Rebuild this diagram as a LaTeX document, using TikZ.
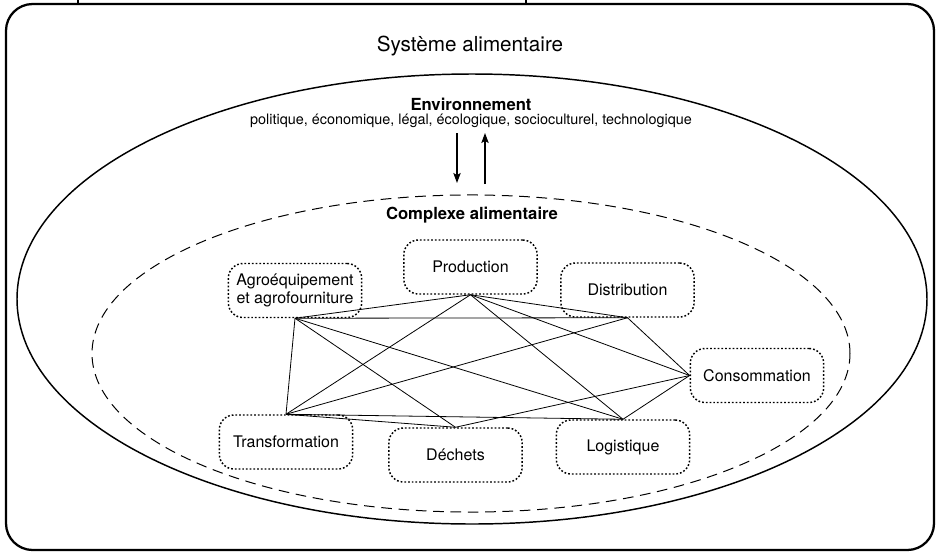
\documentclass[tikz,border=0pt]{standalone}
\usepackage{fontspec}
\setmainfont{TeX Gyre Heros}
\usepackage{tikz}
\usetikzlibrary{arrows.meta,positioning}

\begin{document}
\begin{tikzpicture}[x=0.75pt, y=-0.75pt,
    every node/.style={font=\fontsize{12}{13}\selectfont},
    stage/.style={draw, line width=1.1pt, dash pattern=on 1.3pt off 1.5pt, rounded corners=11pt,
        minimum width=100pt, minimum height=40.5pt, align=center, inner sep=2pt},
    heading/.style={font=\fontsize{12.5}{14}\selectfont\bfseries},
    link/.style={line width=0.6pt},
    flow/.style={line width=0.9pt, -{Stealth[length=7.5pt,width=5.5pt,inset=1.5pt]}}]
    \useasboundingbox (0,0) rectangle (940,551);
    % frame and the two containers
    \draw[line width=1.7pt, rounded corners=20pt] (6,4) rectangle (934,550);
    \draw[line width=1pt] (78,0) -- (78,4);
    \draw[line width=1pt] (526,0) -- (526,4);
    \draw[line width=1.1pt] (472,299) ellipse [x radius=341.25pt, y radius=168.75pt];
    \draw[line width=0.75pt, dash pattern=on 8pt off 5pt] (471,353.5) ellipse [x radius=284.25pt, y radius=118.9pt];
    % titles
    \node (sys) at (470,46) {\fontsize{15.5}{17}\selectfont Système alimentaire};
    \node[heading] (env) at (471,104) {Environnement};
    \node (envsub) at (471,121) {\fontsize{10.8}{12}\selectfont politique, économique, légal, écologique, socioculturel, technologique};
    \node[heading] (cplx) at (472,215) {Complexe alimentaire};
    \coordinate (envdown) at (457,133);
    \coordinate (cplxin) at (457,183);
    \coordinate (cplxout) at (485,184);
    \coordinate (envup) at (485,133);
    \draw[flow] (envdown) -- (cplxin);
    \draw[flow] (cplxout) -- (envup);
    % stages of the food complex
    \node[stage] (agro) at (295,290.5) {Agroéquipement\\et agrofourniture};
    \node[stage] (prod) at (470.5,267) {Production};
    \node[stage] (dist) at (627.5,290) {Distribution};
    \node[stage] (cons) at (757,375.5) {Consommation};
    \node[stage] (trans) at (286,442) {Transformation};
    \node[stage] (dech) at (455.5,455) {Déchets};
    \node[stage] (logi) at (623,447) {Logistique};
    % links between stages
    \draw[link] (agro.south) -- (prod.south);
    \draw[link] (agro.south) -- (dist.south);
    \draw[link] (agro.south) -- (trans.north);
    \draw[link] (agro.south) -- (dech.north);
    \draw[link] (agro.south) -- (logi.north);
    \draw[link] (prod.south) -- (trans.north);
    \draw[link] (prod.south) -- (dist.south);
    \draw[link] (prod.south) -- (cons.west);
    \draw[link] (prod.south) -- (logi.north);
    \draw[link] (trans.north) -- (dist.south);
    \draw[link] (trans.north) -- (dech.north);
    \draw[link] (trans.north) -- (logi.north);
    \draw[link] (dist.south) -- (cons.west);
    \draw[link] (dech.north) -- (cons.west);
    \draw[link] (logi.north) -- (cons.west);
\end{tikzpicture}
\end{document}
